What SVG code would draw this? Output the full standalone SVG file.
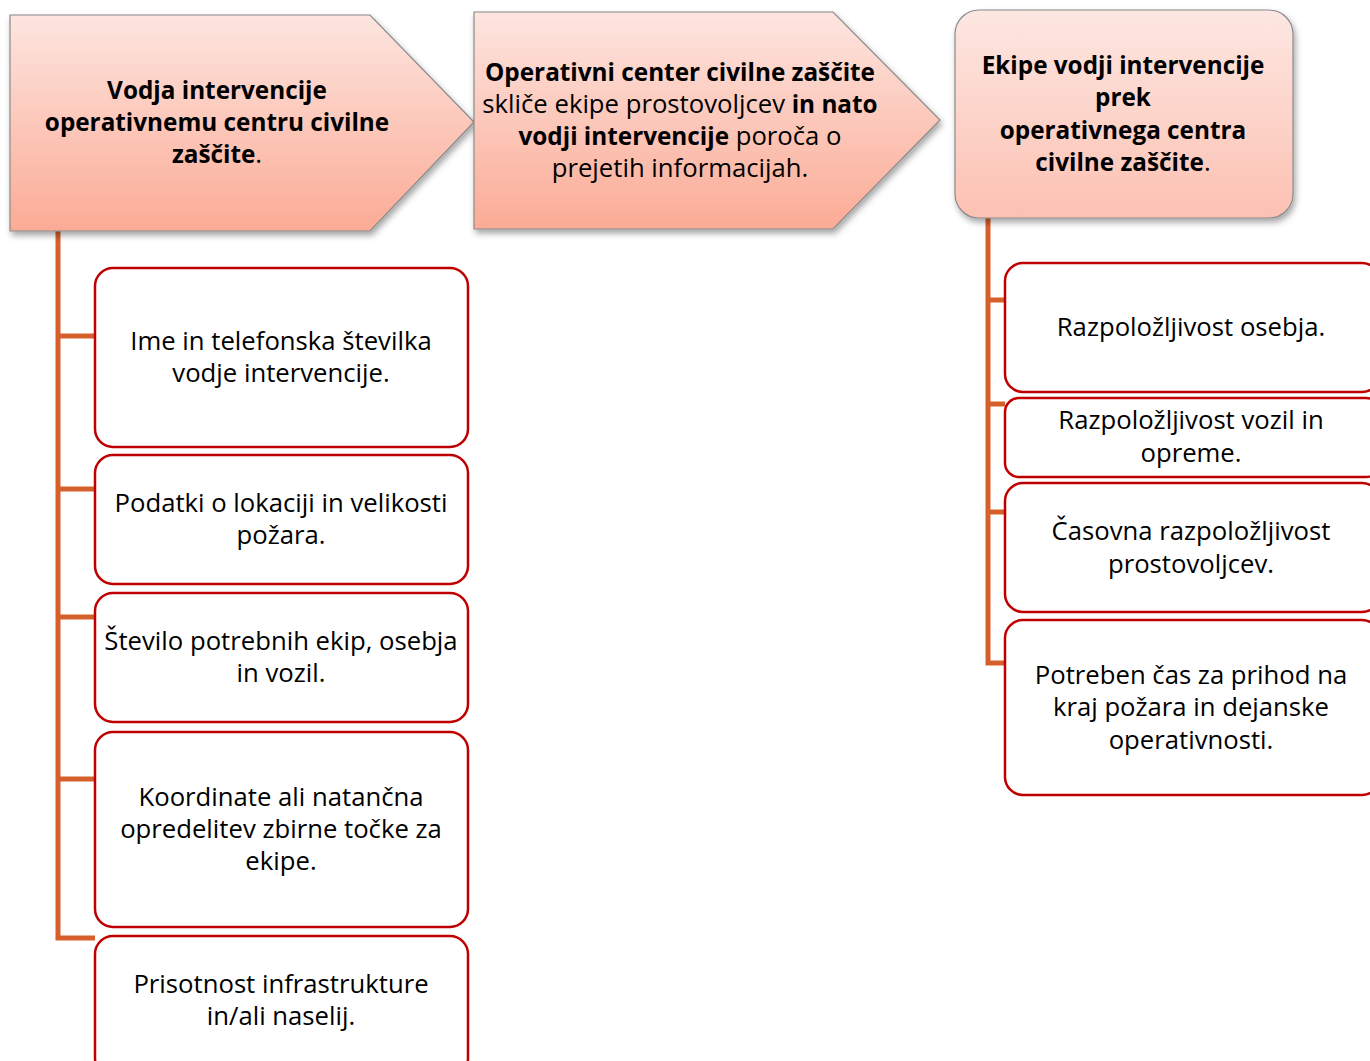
<svg xmlns="http://www.w3.org/2000/svg" width="1370" height="1061" viewBox="0 0 1370 1061">
<defs>
<linearGradient id="hg" x1="0" y1="0" x2="0" y2="1">
<stop offset="0" stop-color="#fde5e0"/>
<stop offset="1" stop-color="#fbab95"/>
</linearGradient>
<linearGradient id="hg2" x1="0" y1="0" x2="0" y2="1">
<stop offset="0" stop-color="#fde7e2"/>
<stop offset="1" stop-color="#fcc1b2"/>
</linearGradient>
<filter id="sh" x="-10%" y="-10%" width="125%" height="130%">
<feDropShadow dx="2" dy="4" stdDeviation="3" flood-color="#000" flood-opacity="0.35"/>
</filter>
</defs>
<style>
.hd{stroke:#8a8a8a;stroke-width:1.2;filter:url(#sh)}
.bx{fill:#fff;stroke:#c00000;stroke-width:2.5}
.cn{fill:none;stroke:#d6602c;stroke-width:5}
text{font-family:"Open Sans","Noto Sans","Liberation Sans",sans-serif;font-size:25.7px;fill:#000;text-anchor:middle}
.b{font-weight:bold;font-size:24.3px}
</style>
<g id="connectors">
<path class="cn" d="M58,231 V938 H95 M58,336 H95 M58,489 H95 M58,617 H95 M58,779 H95"/>
<path class="cn" d="M988,218 V663 H1005 M988,300 H1005 M988,404 H1005 M988,512 H1005"/>
</g>
<g id="h1">
<path class="hd" fill="url(#hg)" d="M10,15 H370 L474,122 L370,231 H10 Z"/>
<text x="217" y="99" class="b">Vodja intervencije</text>
<text x="217" y="131" class="b">operativnemu centru civilne</text>
<text x="217" y="163"><tspan class="b">zaščite</tspan>.</text>
</g>
<g id="h2">
<path class="hd" fill="url(#hg)" d="M474,12 H833 L940,120 L833,229 H474 Z"/>
<text x="680" y="81" class="b">Operativni center civilne zaščite</text>
<text x="680" y="113">skliče ekipe prostovoljcev <tspan class="b">in nato</tspan></text>
<text x="680" y="145"><tspan class="b">vodji intervencije</tspan> poroča o</text>
<text x="680" y="177">prejetih informacijah.</text>
</g>
<g id="h3">
<rect class="hd" fill="url(#hg2)" x="955" y="10" width="338" height="208" rx="24"/>
<text x="1123" y="74" class="b">Ekipe vodji intervencije</text>
<text x="1123" y="106" class="b">prek</text>
<text x="1123" y="139" class="b">operativnega centra</text>
<text x="1123" y="171"><tspan class="b">civilne zaščite</tspan>.</text>
</g>
<g id="l1">
<rect class="bx" x="95" y="268" width="373" height="179" rx="18"/>
<text x="281" y="350">Ime in telefonska številka</text>
<text x="281" y="382">vodje intervencije.</text>
</g>
<g id="l2">
<rect class="bx" x="95" y="455" width="373" height="129" rx="18"/>
<text x="281" y="512">Podatki o lokaciji in velikosti</text>
<text x="281" y="544">požara.</text>
</g>
<g id="l3">
<rect class="bx" x="95" y="593" width="373" height="129" rx="18"/>
<text x="281" y="650">Število potrebnih ekip, osebja</text>
<text x="281" y="682">in vozil.</text>
</g>
<g id="l4">
<rect class="bx" x="95" y="732" width="373" height="195" rx="18"/>
<text x="281" y="806">Koordinate ali natančna</text>
<text x="281" y="838">opredelitev zbirne točke za</text>
<text x="281" y="870">ekipe.</text>
</g>
<g id="l5">
<rect class="bx" x="95" y="936" width="373" height="140" rx="18"/>
<text x="281" y="993">Prisotnost infrastrukture</text>
<text x="281" y="1025">in/ali naselij.</text>
</g>
<g id="r1">
<rect class="bx" x="1005" y="263" width="375" height="129" rx="18"/>
<text x="1191" y="336">Razpoložljivost osebja.</text>
</g>
<g id="r2">
<rect class="bx" x="1005" y="398" width="375" height="79" rx="14"/>
<text x="1191" y="429">Razpoložljivost vozil in</text>
<text x="1191" y="462">opreme.</text>
</g>
<g id="r3">
<rect class="bx" x="1005" y="483" width="375" height="129" rx="18"/>
<text x="1191" y="540">Časovna razpoložljivost</text>
<text x="1191" y="573">prostovoljcev.</text>
</g>
<g id="r4">
<rect class="bx" x="1005" y="620" width="375" height="175" rx="18"/>
<text x="1191" y="684">Potreben čas za prihod na</text>
<text x="1191" y="716">kraj požara in dejanske</text>
<text x="1191" y="749">operativnosti.</text>
</g>
</svg>
